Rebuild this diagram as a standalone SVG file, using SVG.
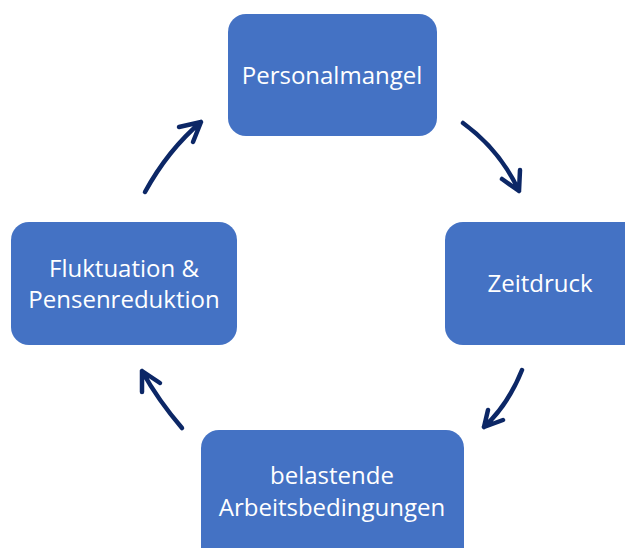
<svg xmlns="http://www.w3.org/2000/svg" width="625" height="548" viewBox="0 0 625 548">
<style>
.box{fill:#4472C4}
.t{fill:#fff;font-family:"Open Sans","Liberation Sans",sans-serif;font-size:24px;text-anchor:middle}
.c{fill:none;stroke:#0C2766;stroke-width:4.5;stroke-linecap:round;stroke-linejoin:round}
</style>
<rect width="625" height="548" fill="#fff"/>
<g id="personalmangel"><rect class="box" x="228" y="14" width="209" height="122" rx="18"/><text class="t" x="332" y="84">Personalmangel</text></g>
<g id="zeitdruck"><rect class="box" x="445" y="222" width="200" height="123" rx="18"/><text class="t" x="540" y="292">Zeitdruck</text></g>
<g id="belastende"><rect class="box" x="201" y="430" width="263" height="140" rx="18"/><text class="t" x="332" y="484">belastende</text><text class="t" x="332" y="516">Arbeitsbedingungen</text></g>
<g id="fluktuation"><rect class="box" x="11" y="222" width="226" height="123" rx="18"/><text class="t" x="124" y="277">Fluktuation &amp;</text><text class="t" x="124" y="308">Pensenreduktion</text></g>
<g id="connectors">
<path class="c" d="M463,123 Q500,150 519,191 M502,179 L519,191 L520,170"/>
<path class="c" d="M522,370 Q508,405 484,427 M488,410 L484,427 L503,420"/>
<path class="c" d="M182,428 Q158,400 142,371 M142,392 L142,371 L160,383"/>
<path class="c" d="M145,192 Q168,150 201,122 M179,127 L201,122 L193,142"/>
</g>
</svg>
